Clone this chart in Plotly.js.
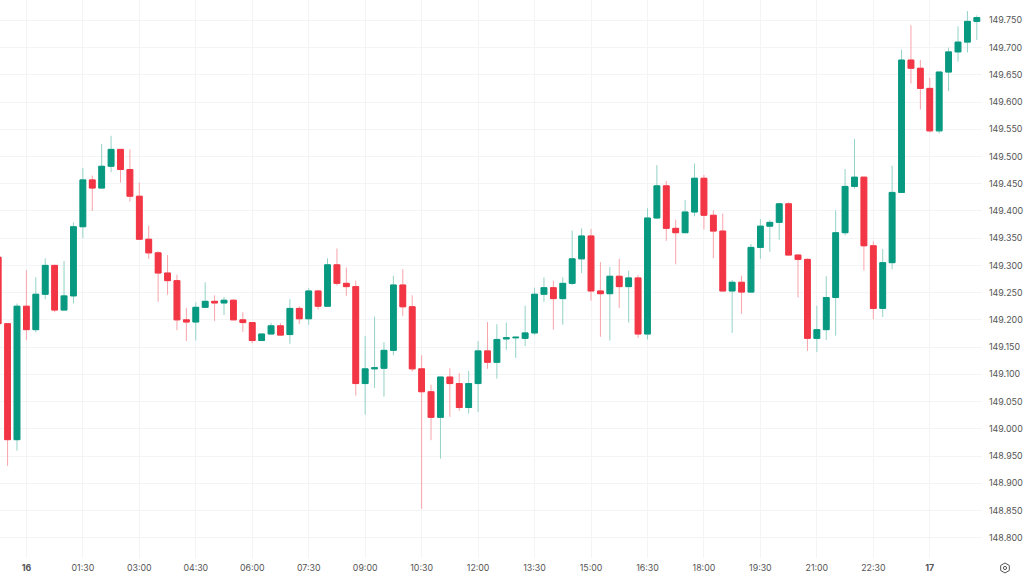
<!DOCTYPE html>
<html><head><meta charset="utf-8">
<script src="https://cdn.plot.ly/plotly-3.0.1.min.js"></script>
<style>html,body{margin:0;padding:0;background:#fff}#c{width:1024px;height:576px}</style></head>
<body><div id="c"></div>
<script>
const barIndex = [-3,-2,-1,0,1,2,3,4,5,6,7,8,9,10,11,12,13,14,15,16,17,18,19,20,21,22,23,24,25,26,27,28,29,30,31,32,33,34,35,36,37,38,39,40,41,42,43,44,45,46,47,48,49,50,51,52,53,54,55,56,57,58,59,60,61,62,63,64,65,66,67,68,69,70,71,72,73,74,75,76,77,78,79,80,81,82,83,84,85,86,87,88,89,90,91,92,93,94,95,96,97,98,99,100,101];
const opens = [149.315,149.193,148.98,149.225,149.182,149.247,149.30,149.218,149.244,149.371,149.457,149.442,149.482,149.513,149.476,149.427,149.348,149.323,149.286,149.272,149.20,149.196,149.223,149.234,149.231,149.236,149.20,149.195,149.162,149.174,149.189,149.173,149.221,149.202,149.253,149.225,149.301,149.267,149.261,149.083,149.11,149.111,149.144,149.264,149.224,149.11,149.068,149.021,149.095,149.083,149.039,149.083,149.143,149.122,149.165,149.167,149.166,149.176,149.247,149.259,149.239,149.267,149.312,149.354,149.253,149.248,149.28,149.261,149.277,149.174,149.387,149.446,149.368,149.36,149.398,149.46,149.392,149.363,149.253,149.269,149.251,149.333,149.372,149.379,149.413,149.319,149.311,149.166,149.182,149.241,149.36,149.445,149.462,149.336,149.221,149.305,149.434,149.677,149.662,149.625,149.547,149.655,149.692,149.71,149.748];
const highs = [149.32,149.193,149.23,149.291,149.278,149.313,149.301,149.308,149.379,149.479,149.465,149.523,149.538,149.513,149.513,149.452,149.373,149.326,149.319,149.283,149.222,149.232,149.269,149.245,149.242,149.238,149.214,149.195,149.174,149.194,149.194,149.238,149.225,149.258,149.255,149.313,149.331,149.296,149.272,149.17,149.206,149.159,149.281,149.293,149.245,149.135,149.081,149.095,149.111,149.102,149.106,149.161,149.196,149.192,149.195,149.169,149.226,149.259,149.278,149.272,149.278,149.364,149.368,149.367,149.306,149.297,149.312,149.29,149.282,149.405,149.484,149.455,149.384,149.42,149.487,149.466,149.401,149.395,149.273,149.281,149.339,149.385,149.383,149.415,149.416,149.319,149.313,149.226,149.28,149.401,149.477,149.532,149.463,149.344,149.33,149.483,149.696,149.741,149.677,149.644,149.655,149.70,149.739,149.767,149.759];
const lows = [149.185,148.932,148.96,149.163,149.177,149.238,149.214,149.218,149.23,149.35,149.40,149.442,149.471,149.452,149.417,149.348,149.312,149.233,149.246,149.181,149.161,149.162,149.223,149.198,149.209,149.20,149.178,149.157,149.162,149.174,149.171,149.156,149.192,149.191,149.219,149.225,149.263,149.244,149.061,149.026,149.075,149.059,149.135,149.207,149.105,148.853,148.979,148.945,149.022,149.033,149.028,149.031,149.11,149.092,149.145,149.13,149.152,149.172,149.233,149.182,149.191,149.264,149.286,149.235,149.169,149.162,149.222,149.195,149.167,149.164,149.385,149.345,149.302,149.36,149.39,149.366,149.313,149.253,149.176,149.211,149.251,149.312,149.325,149.347,149.319,149.241,149.143,149.141,149.163,149.171,149.355,149.441,149.291,149.201,149.205,149.293,149.434,149.634,149.586,149.544,149.542,149.62,149.674,149.691,149.714];
const closes = [149.193,148.98,149.225,149.182,149.247,149.30,149.218,149.244,149.371,149.457,149.442,149.482,149.513,149.476,149.427,149.348,149.323,149.286,149.272,149.20,149.196,149.223,149.234,149.231,149.236,149.20,149.195,149.162,149.174,149.189,149.172,149.221,149.202,149.253,149.225,149.301,149.267,149.261,149.083,149.11,149.112,149.144,149.264,149.224,149.11,149.068,149.021,149.095,149.083,149.039,149.083,149.143,149.122,149.164,149.167,149.168,149.176,149.247,149.259,149.239,149.267,149.312,149.354,149.253,149.248,149.28,149.261,149.277,149.174,149.387,149.446,149.368,149.36,149.398,149.46,149.392,149.363,149.253,149.269,149.251,149.333,149.372,149.379,149.413,149.319,149.311,149.166,149.182,149.241,149.36,149.445,149.462,149.336,149.221,149.305,149.434,149.677,149.662,149.625,149.547,149.655,149.692,149.71,149.748,149.755];
const xTickIndex = [0,6,12,18,24,30,36,42,48,54,60,66,72,78,84,90,96];
const xTickLabels = ['<b>16</b>','01:30','03:00','04:30','06:00','07:30','09:00','10:30','12:00','13:30','15:00','16:30','18:00','19:30','21:00','22:30','<b>17</b>'];
const priceTicks = [148.8,148.85,148.9,148.95,149,149.05,149.1,149.15,149.2,149.25,149.3,149.35,149.4,149.45,149.5,149.55,149.6,149.65,149.7,149.75];

const UP = '#089981', DOWN = '#F23645';
const UPW = '#93d2c6', DOWNW = '#f9a3aa';
const bodyHigh = opens.map((o,i)=>Math.max(o,closes[i]));
const bodyLow = opens.map((o,i)=>Math.min(o,closes[i]));
const W = 982, H = 558;
const px = (x,y)=>`${(x/W).toFixed(5)} ${((H-y)/H).toFixed(5)}`;
const hex = (cx,cy,r)=>{let s='';for(let i=0;i<6;i++){const a=Math.PI/3*i+Math.PI/6;s+=(i?'L':'M')+px(cx+r*Math.cos(a),cy+r*Math.sin(a))+' ';}return s+'Z';};

const wicks = {type:'candlestick',x:barIndex,open:opens,high:highs,low:lows,close:closes,whiskerwidth:0,
  increasing:{line:{color:UPW,width:1},fillcolor:UPW},decreasing:{line:{color:DOWNW,width:1},fillcolor:DOWNW},showlegend:false,hoverinfo:'skip'};
const bodies = {type:'candlestick',x:barIndex,open:opens,high:bodyHigh,low:bodyLow,close:closes,whiskerwidth:0,
  increasing:{line:{color:UP,width:1},fillcolor:UP},decreasing:{line:{color:DOWN,width:1},fillcolor:DOWN},showlegend:false,hoverinfo:'skip'};
const layout = {
  width:1024,height:576,paper_bgcolor:'#fff',plot_bgcolor:'#fff',showlegend:false,
  margin:{l:0,r:42,t:0,b:18,pad:0},boxgap:0.12,boxmode:'overlay',
  font:{family:'Inter, "Liberation Sans", sans-serif',size:10,color:'#555'},
  xaxis:{type:'linear',range:[-2.805,101.55],tickmode:'array',tickvals:xTickIndex,ticktext:xTickLabels,
    showgrid:true,gridcolor:'#f3f4f6',gridwidth:1,zeroline:false,showline:false,ticks:'',ticklabelstandoff:3,
    rangeslider:{visible:false},tickfont:{size:8.8,color:'#555'},fixedrange:true},
  yaxis:{side:'right',range:[148.7627,149.7873],tickmode:'array',tickvals:priceTicks,ticktext:priceTicks.map(v=>v.toFixed(3)),
    showgrid:true,gridcolor:'#f3f4f6',gridwidth:1,zeroline:false,showline:false,ticks:'',ticklabelstandoff:6,
    tickfont:{size:8.9,color:'#555'},fixedrange:true},
  shapes:[
    {type:'path',xref:'paper',yref:'paper',path:hex(1005,568,5),line:{color:'#555',width:1},fillcolor:'rgba(0,0,0,0)'},
    {type:'circle',xref:'paper',yref:'paper',x0:(1003.4)/W,x1:(1006.6)/W,y0:(H-569.6)/H,y1:(H-566.4)/H,line:{color:'#555',width:1},fillcolor:'rgba(0,0,0,0)'}
  ]
};
Plotly.newPlot('c',[wicks,bodies],layout,{displayModeBar:false,staticPlot:true});
</script></body></html>
